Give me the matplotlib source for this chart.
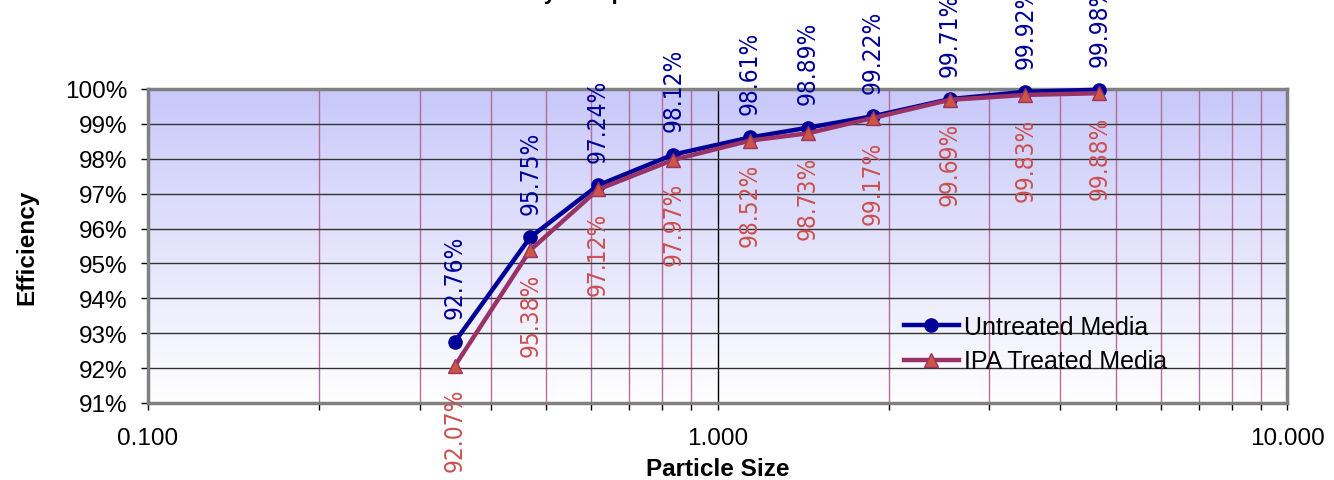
import numpy as np
import matplotlib
matplotlib.use("Agg")
import matplotlib.pyplot as plt
from matplotlib.ticker import FixedLocator, FuncFormatter, LogLocator, NullFormatter

plt.rcParams['font.family'] = ['Liberation Sans', 'DejaVu Sans']

# ---- data ----
particle_size = [0.346, 0.469, 0.617, 0.836, 1.14, 1.44, 1.876, 2.56, 3.47, 4.68]
untreated = [92.76, 95.75, 97.24, 98.12, 98.61, 98.89, 99.22, 99.71, 99.92, 99.98]
ipa_treated = [92.07, 95.38, 97.12, 97.97, 98.52, 98.73, 99.17, 99.69, 99.83, 99.88]
series_names = ["Untreated Media", "IPA Treated Media"]
x_ticks = [0.1, 1.0, 10.0]
x_tick_labels = ["0.100", "1.000", "10.000"]
y_ticks = list(range(91, 101))

W, H, DPI = 1334, 481, 100
fig = plt.figure(figsize=(W / DPI, H / DPI), dpi=DPI)
ax = fig.add_axes([148 / W, 1 - 404 / H, (1287 - 148) / W, (404 - 90) / H])

ax.set_xscale('log')
ax.set_xlim(0.1, 10)
ax.set_ylim(91, 100)

# gradient background
top = np.array([200, 200, 250]) / 255.0
bot = np.array([255, 255, 255]) / 255.0
t = np.linspace(0, 1, 256)[:, None]
grad = (top[None, :] * (1 - t) + bot[None, :] * t)[:, None, :]
ax.imshow(grad, extent=[0, 1, 0, 1], transform=ax.transAxes, aspect='auto',
          zorder=0, interpolation='bilinear')

# grid
ax.set_yticks(y_ticks)
ax.yaxis.set_major_formatter(FuncFormatter(lambda v, p: f"{int(round(v))}%"))
ax.xaxis.set_major_locator(FixedLocator(x_ticks))
ax.set_xticklabels(x_tick_labels)
ax.xaxis.set_minor_locator(LogLocator(base=10, subs=np.arange(2, 10)))
ax.xaxis.set_minor_formatter(NullFormatter())
ax.grid(which='major', axis='y', color='#333333', linewidth=1.0, zorder=1)
ax.grid(which='major', axis='x', color='#000000', linewidth=1.0, zorder=1)
ax.grid(which='minor', axis='x', color='#b86a98', linewidth=1.0, zorder=1)
ax.set_axisbelow(True)

for s in ax.spines.values():
    s.set_color('#808080')
    s.set_linewidth(2.5)

ax.tick_params(axis='both', which='both', direction='out', color='black',
               length=5, width=1, labelsize=17.5)
ax.tick_params(axis='y', which='major', pad=10)
ax.tick_params(axis='x', which='major', pad=12)

# series
ax.plot(particle_size, untreated, color='#000099', linewidth=3.2, marker='o',
        markersize=9.5, markerfacecolor='#000099', markeredgecolor='#000099',
        label=series_names[0], zorder=4, clip_on=False)
ax.plot(particle_size, ipa_treated, color='#993366', linewidth=3.2, marker='^',
        markersize=10, markerfacecolor='#cc5544', markeredgecolor='#993366',
        markeredgewidth=1.0, label=series_names[1], zorder=5, clip_on=False)

label_font = ['DejaVu Sans']
label_size = 17.5
for xv, yv in zip(particle_size, untreated):
    ax.annotate(f"{yv:.2f}%", (xv, yv), xytext=(0, 17), textcoords='offset points',
                rotation=90, ha='center', va='bottom', fontsize=label_size,
                fontstretch='condensed', color='#000099', family=label_font,
                annotation_clip=False, zorder=6)
for xv, yv in zip(particle_size, ipa_treated):
    ax.annotate(f"{yv:.2f}%", (xv, yv), xytext=(0, -16), textcoords='offset points',
                rotation=90, ha='center', va='top', fontsize=label_size,
                fontstretch='condensed', color='#cc5050', family=label_font,
                annotation_clip=False, zorder=6)

ax.set_xlabel("Particle Size", fontsize=17.5, fontweight='bold', labelpad=6)
ax.set_ylabel("Efficiency", fontsize=17.5, fontweight='bold', labelpad=19)

leg = ax.legend(loc='center left', bbox_to_anchor=(904 / W, 1 - 345 / H),
                bbox_transform=fig.transFigure, frameon=False, fontsize=18,
                handlelength=2.2, handletextpad=0.2, labelspacing=0.42,
                borderpad=0, borderaxespad=0)

# title (mostly outside the visible canvas, as in the reference)
fig.text(451 / W, 1 + 0.5 / H, "Efficiency Comparison", ha='left', va='baseline',
         fontsize=16, fontweight='bold')

fig.savefig("out.png", dpi=DPI)
